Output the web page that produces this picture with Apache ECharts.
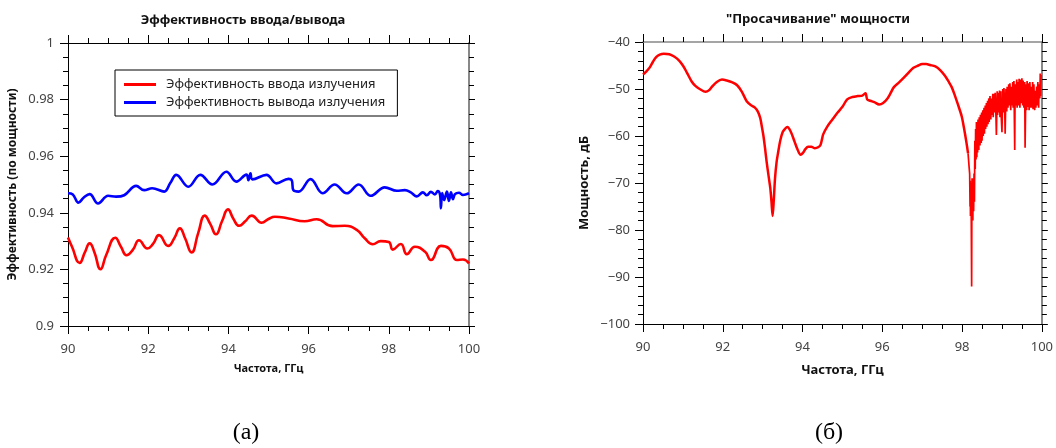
<!DOCTYPE html>
<html>
<head>
<meta charset="utf-8">
<script src="https://cdn.jsdelivr.net/npm/echarts@6/dist/echarts.min.js"></script>
<style>
  html, body { margin: 0; padding: 0; background: #fff; }
  #chart { width: 1056px; height: 448px; }
</style>
</head>
<body>
<div id="chart"></div>
<script>
// (а) coupling efficiency
const inFreq = [90.0, 90.1, 90.29, 90.42, 90.54, 90.66, 90.81, 90.95, 91.18, 91.32, 91.46, 91.62, 91.77, 91.98, 92.12, 92.27, 92.5, 92.65, 92.79, 92.92, 93.08, 93.25, 93.41, 93.55, 93.69, 93.84, 93.99, 94.12, 94.27, 94.42, 94.58, 94.83, 95.0, 95.16, 95.5, 95.9, 96.2, 96.6, 96.9, 97.2, 97.4, 97.6, 97.8, 98.0, 98.1, 98.3, 98.45, 98.65, 98.9, 99.05, 99.3, 99.5, 99.7, 99.85, 100.0];
const inEff = [0.9313, 0.928, 0.9223, 0.926, 0.9292, 0.926, 0.9201, 0.925, 0.9312, 0.928, 0.925, 0.927, 0.9303, 0.9274, 0.929, 0.9321, 0.9283, 0.931, 0.9345, 0.931, 0.926, 0.933, 0.939, 0.936, 0.9324, 0.937, 0.9412, 0.938, 0.9354, 0.937, 0.939, 0.9365, 0.9378, 0.9386, 0.938, 0.937, 0.9377, 0.9353, 0.9354, 0.934, 0.931, 0.9289, 0.930, 0.9297, 0.927, 0.929, 0.9254, 0.928, 0.9263, 0.9233, 0.9283, 0.9274, 0.9233, 0.9235, 0.9221];

const outFreq = [90.0, 90.12, 90.26, 90.4, 90.54, 90.75, 91.0, 91.2, 91.4, 91.7, 91.9, 92.1, 92.4, 92.55, 92.7, 93.0, 93.3, 93.6, 93.95, 94.2, 94.45, 94.5, 94.55, 94.6, 94.95, 95.2, 95.5, 95.58, 95.62, 95.75, 96.05, 96.35, 96.65, 96.95, 97.25, 97.55, 97.9, 98.2, 98.4, 98.55, 98.7, 98.85, 98.95, 99.05, 99.15, 99.22, 99.28, 99.3, 99.33, 99.38, 99.45, 99.5, 99.55, 99.6, 99.65, 99.75, 99.85, 100.0];
const outEff = [0.9469, 0.9465, 0.9436, 0.9455, 0.9466, 0.9433, 0.946, 0.9457, 0.9462, 0.9495, 0.948, 0.9487, 0.9475, 0.9505, 0.9534, 0.9492, 0.9534, 0.950, 0.9545, 0.951, 0.9535, 0.9515, 0.954, 0.9518, 0.9534, 0.9504, 0.952, 0.9515, 0.948, 0.9475, 0.9519, 0.9469, 0.950, 0.9469, 0.950, 0.946, 0.949, 0.9478, 0.948, 0.9472, 0.9458, 0.9472, 0.9462, 0.9474, 0.9465, 0.9477, 0.9462, 0.9416, 0.947, 0.9445, 0.9475, 0.9442, 0.9472, 0.9448, 0.9466, 0.9471, 0.9463, 0.9469];

// (б) power leakage, dB
const leakFreq = [90.0, 90.08, 90.17, 90.25, 90.33, 90.42, 90.52, 90.66, 90.78, 90.9, 91.0, 91.1, 91.22, 91.32, 91.42, 91.57, 91.65, 91.74, 91.85, 91.98, 92.1, 92.24, 92.36, 92.48, 92.6, 92.7, 92.8, 92.88, 92.94, 92.98, 93.02, 93.06, 93.1, 93.15, 93.19, 93.22, 93.25, 93.28, 93.31, 93.35, 93.39, 93.44, 93.5, 93.56, 93.62, 93.7, 93.8, 93.88, 93.95, 94.01, 94.07, 94.14, 94.22, 94.31, 94.39, 94.45, 94.49, 94.52, 94.62, 94.74, 94.88, 95.0, 95.12, 95.25, 95.38, 95.5, 95.58, 95.62, 95.7, 95.8, 95.92, 96.02, 96.13, 96.2, 96.29, 96.42, 96.54, 96.66, 96.78, 96.9, 97.0, 97.1, 97.2, 97.33, 97.45, 97.57, 97.66, 97.74, 97.82, 97.9, 97.99, 98.05, 98.11, 98.15];
const leakDb = [-46.9, -46.3, -45.4, -44.2, -43.2, -42.7, -42.5, -42.6, -43.1, -43.9, -45.0, -46.5, -48.4, -49.4, -50.0, -50.6, -50.3, -49.4, -48.5, -48.0, -48.2, -48.6, -49.2, -50.6, -52.6, -53.4, -53.9, -54.8, -56.2, -58.0, -60.0, -62.6, -65.5, -68.6, -71.0, -73.8, -77.0, -73.5, -69.0, -65.5, -63.4, -61.0, -59.2, -58.5, -58.1, -59.0, -61.2, -63.0, -64.0, -63.6, -62.8, -62.3, -62.3, -62.6, -62.4, -61.9, -60.6, -59.6, -58.0, -56.6, -55.0, -53.8, -52.2, -51.7, -51.5, -51.4, -50.9, -52.2, -52.5, -52.8, -53.3, -53.0, -52.0, -51.0, -49.6, -48.6, -47.6, -46.5, -45.5, -45.0, -44.7, -44.7, -44.9, -45.2, -46.0, -47.2, -48.4, -49.6, -51.4, -53.4, -55.8, -58.4, -61.4, -63.7];

const noiseFreq = [98.15, 98.18, 98.19, 98.2, 98.205, 98.21, 98.215, 98.22, 98.225, 98.23, 98.24, 98.245, 98.25, 98.255, 98.26, 98.27, 98.28, 98.29, 98.3, 98.31, 98.32, 98.33, 98.34, 98.35, 98.36, 98.37, 98.38, 98.39, 98.4, 98.42, 98.43, 98.45, 98.46, 98.48, 98.49, 98.5, 98.52, 98.53, 98.55, 98.56, 98.58, 98.59, 98.61, 98.62, 98.64, 98.65, 98.67, 98.68, 98.7, 98.72, 98.74, 98.75, 98.77, 98.78, 98.8, 98.82, 98.83, 98.85, 98.86, 98.88, 98.89, 98.91, 98.92, 98.94, 98.95, 98.97, 98.98, 99.0, 99.02, 99.03, 99.05, 99.07, 99.08, 99.1, 99.12, 99.13, 99.15, 99.17, 99.18, 99.2, 99.22, 99.23, 99.25, 99.27, 99.28, 99.3, 99.32, 99.33, 99.35, 99.37, 99.38, 99.4, 99.42, 99.43, 99.45, 99.47, 99.48, 99.5, 99.52, 99.53, 99.55, 99.57, 99.58, 99.6, 99.62, 99.63, 99.65, 99.67, 99.68, 99.7, 99.72, 99.73, 99.75, 99.77, 99.78, 99.8, 99.82, 99.83, 99.85, 99.87, 99.88, 99.9, 99.92, 99.93, 99.95, 99.96, 99.97, 99.98, 100.0];
const noiseDb = [-63.7, -67.0, -68.0, -75.0, -69.5, -77.0, -70.0, -76.5, -71.0, -77.5, -92.0, -76.0, -69.0, -77.0, -70.0, -78.0, -69.0, -76.0, -68.0, -74.0, -61.0, -67.0, -58.5, -65.0, -57.0, -64.5, -57.5, -63.5, -56.5, -63.0, -56.0, -62.0, -55.5, -61.5, -55.0, -61.0, -54.5, -60.0, -54.0, -59.5, -53.5, -58.5, -53.0, -58.0, -52.5, -57.5, -52.0, -57.0, -51.5, -56.5, -52.0, -55.5, -51.0, -56.0, -51.0, -55.0, -50.8, -56.0, -59.8, -50.5, -55.5, -50.8, -55.0, -50.3, -56.0, -50.5, -55.5, -59.2, -50.0, -55.0, -49.8, -54.5, -59.5, -50.0, -54.8, -49.5, -54.0, -49.0, -53.5, -48.8, -54.5, -49.5, -53.5, -48.5, -54.0, -48.3, -63.0, -49.0, -53.5, -48.0, -54.0, -48.5, -53.5, -47.8, -54.0, -48.0, -53.0, -47.7, -53.5, -48.2, -54.0, -48.5, -62.5, -49.0, -54.5, -48.3, -53.8, -48.8, -54.5, -48.5, -54.0, -49.5, -54.0, -48.5, -54.3, -49.0, -54.5, -50.4, -54.0, -49.5, -53.5, -48.5, -54.0, -49.0, -52.0, -46.7, -51.5, -47.0];

const pairs = (xs, ys) => xs.map((x, i) => [x, ys[i]]);

const FONT = 'Noto Sans';
const tickCol = '#000';
const labelCol = '#444';

function xAxes(grid, nameGap, nameSize) {
  const base = {
    gridIndex: grid, type: 'value', min: 90, max: 100, interval: 2,
    axisLine: { lineStyle: { color: '#000', width: 1 } },
    axisTick: { length: 8, lineStyle: { color: tickCol } },
    minorTick: { show: true, splitNumber: 4, length: 5, lineStyle: { color: tickCol } },
    splitLine: { show: false }
  };
  return [
    Object.assign({}, base, {
      position: 'bottom',
      name: 'Частота, ГГц', nameLocation: 'middle', nameGap: nameGap,
      nameTextStyle: { fontFamily: FONT, fontWeight: 'bold', fontSize: nameSize, color: '#111' },
      axisLabel: { fontFamily: FONT, fontSize: 13, color: labelCol, margin: 17 }
    }),
    Object.assign({}, base, {
      position: 'top',
      axisLabel: { show: false },
      axisLine: { lineStyle: { color: grid === 1 ? '#888' : '#000', width: grid === 1 ? 1.5 : 1 } }
    })
  ];
}

function yAxes(grid, opts) {
  const base = {
    gridIndex: grid, type: 'value', min: opts.min, max: opts.max, interval: opts.interval,
    axisTick: { length: 8, lineStyle: { color: tickCol } },
    minorTick: { show: true, splitNumber: opts.minor, length: 5, lineStyle: { color: tickCol } },
    splitLine: { show: false }
  };
  return [
    Object.assign({}, base, {
      position: 'left',
      axisLine: { show: true, lineStyle: { color: '#000' } },
      name: opts.name, nameLocation: 'middle', nameGap: opts.nameGap,
      nameTextStyle: { fontFamily: FONT, fontWeight: 'bold', fontSize: opts.nameSize, color: '#111' },
      axisLabel: { fontFamily: FONT, fontSize: 13, color: labelCol, margin: opts.margin, formatter: opts.fmt }
    }),
    Object.assign({}, base, {
      position: 'right',
      axisLine: { show: true, lineStyle: { color: '#888', width: 2 } },
      axisTick: { length: 6, lineStyle: { color: tickCol } },
      axisLabel: { show: false }
    })
  ];
}

const chart = echarts.init(document.getElementById('chart'), null, { renderer: 'canvas' });

chart.setOption({
  animation: false,
  backgroundColor: '#fff',
  grid: [
    { left: 68, right: 587, top: 43, bottom: 122 },
    { left: 643, right: 10, top: 42, bottom: 124 }
  ],
  xAxis: [].concat(xAxes(0, 37, 11), xAxes(1, 40, 13)),
  yAxis: [].concat(
    yAxes(0, { min: 0.9, max: 1, interval: 0.02, minor: 4, name: 'Эффективность (по мощности)', nameGap: 49, nameSize: 12, margin: 14,
      fmt: v => String(+v.toFixed(2)) }),
    yAxes(1, { min: -100, max: -40, interval: 10, minor: 5, name: 'Мощность, дБ', nameGap: 52, nameSize: 13, margin: 13,
      fmt: v => String(v).replace('-', '\u2212') })
  ),
  legend: {
    left: 115, top: 70, orient: 'vertical',
    icon: 'rect', itemWidth: 32, itemHeight: 3, itemGap: 5,
    padding: [8, 12, 7, 9],
    borderColor: '#000', borderWidth: 1, backgroundColor: '#fff',
    textStyle: { fontFamily: FONT, fontSize: 13, color: '#222', padding: [0, 0, 0, 5] },
    data: ['Эффективность ввода излучения', 'Эффективность вывода излучения']
  },
  graphic: [
    { type: 'text', x: 243, y: 20, style: { text: 'Эффективность ввода/вывода', font: 'bold 13px "Noto Sans"', fill: '#111', align: 'center', verticalAlign: 'middle' } },
    { type: 'text', x: 818, y: 19, style: { text: '"Просачивание" мощности', font: 'bold 13px "Noto Sans"', fill: '#111', align: 'center', verticalAlign: 'middle' } },
    { type: 'text', x: 246, y: 433, style: { text: '(а)', font: '24px "Liberation Serif"', fill: '#000', align: 'center', verticalAlign: 'middle' } },
    { type: 'text', x: 829, y: 433, style: { text: '(б)', font: '24px "Liberation Serif"', fill: '#000', align: 'center', verticalAlign: 'middle' } }
  ],
  series: [
    { name: 'Эффективность ввода излучения', type: 'line', xAxisIndex: 0, yAxisIndex: 0, data: pairs(inFreq, inEff),
      smooth: 0.5, showSymbol: false, symbol: 'none', lineStyle: { color: '#ff0000', width: 2.6 }, itemStyle: { color: '#ff0000' } },
    { name: 'Эффективность вывода излучения', type: 'line', xAxisIndex: 0, yAxisIndex: 0, data: pairs(outFreq, outEff),
      smooth: 0.4, showSymbol: false, symbol: 'none', lineStyle: { color: '#0000ff', width: 2.6 }, itemStyle: { color: '#0000ff' } },
    { name: 'leak', type: 'line', xAxisIndex: 2, yAxisIndex: 2, data: pairs(leakFreq, leakDb),
      smooth: 0.3, showSymbol: false, symbol: 'none', lineStyle: { color: '#ff0000', width: 2.5 } },
    { name: 'leakNoise', type: 'line', xAxisIndex: 2, yAxisIndex: 2, data: pairs(noiseFreq, noiseDb),
      showSymbol: false, symbol: 'none', lineStyle: { color: '#ff0000', width: 1.7 } }
  ]
});
</script>
</body>
</html>
